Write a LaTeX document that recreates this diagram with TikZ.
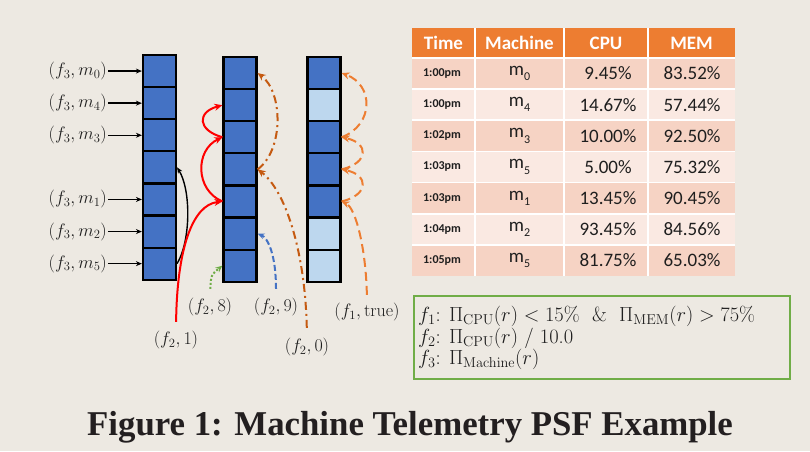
\RequirePackage{fix-cm}
\documentclass[tikz,border=0pt]{standalone}
\usepackage[no-math]{fontspec}
\newfontfamily\calib{Carlito}
\newfontfamily\capfont{Liberation Serif}
\usetikzlibrary{arrows.meta}
\definecolor{bg}{RGB}{237,233,226}
\definecolor{dblue}{RGB}{68,114,196}
\definecolor{lblue}{RGB}{189,215,238}
\definecolor{hdr}{RGB}{237,125,49}
\definecolor{rowA}{RGB}{246,211,196}
\definecolor{rowB}{RGB}{250,233,226}
\definecolor{gbox}{RGB}{112,173,71}
\definecolor{dorange}{RGB}{197,90,17}
\definecolor{lorange}{RGB}{237,125,49}
\definecolor{txt}{RGB}{30,30,30}
\newcommand\msub[1]{m\raisebox{-0.28em}{\fontsize{12}{12}\selectfont #1}}
\begin{document}
\begin{tikzpicture}[x=1pt,y=-1pt,
  cell/.style={draw=black,line width=2.2pt,minimum width=33pt,minimum height=32.1pt,inner sep=0pt},
  lab/.style={font=\fontsize{18}{20}\selectfont,text=txt,inner sep=1pt},
  blk/.style={draw=black,line width=1.4pt,-{Stealth[length=6pt,width=5pt]}},
  redarr/.style={draw=red,line width=2pt,-{Stealth[length=8pt,width=7pt]}},
  grnarr/.style={draw=gbox,line width=2pt,dotted,-{Stealth[length=7pt,width=6pt]}},
  bluarr/.style={draw=dblue,line width=2pt,dash pattern=on 6pt off 3pt,-{Stealth[length=7pt,width=6pt]}},
  ddot/.style={draw=dorange,line width=2pt,dash pattern=on 8pt off 4pt on 2pt off 4pt,-{Stealth[length=8pt,width=7pt]}},
  odash/.style={draw=lorange,line width=2pt,dash pattern=on 9pt off 5pt,-{Stealth[length=8pt,width=7pt]}},
  th/.style={font=\calib\bfseries\fontsize{19}{21}\selectfont,text=white,inner sep=0pt},
  tsmall/.style={font=\calib\bfseries\fontsize{12}{14}\selectfont,text=txt,inner sep=0pt},
  td/.style={font=\calib\fontsize{19}{21}\selectfont,text=txt,inner sep=0pt},
  ftxt/.style={font=\fontsize{20.5}{22}\selectfont,text=txt,inner sep=0pt,anchor=west}]
\fill[bg] (0,0) rectangle (810,451);
\useasboundingbox (0,0) rectangle (810,451);

% column 1
\foreach \i in {1,...,7}
  \node[cell,fill=dblue] (a\i) at (159.5,{55+32.1*(\i-0.5)}) {};
% column 2
\foreach \i in {1,...,7}
  \node[cell,fill=dblue] (b\i) at (240,{57+32.1*(\i-0.5)}) {};
% column 3
\foreach \i/\c in {1/dblue,2/lblue,3/dblue,4/dblue,5/dblue,6/lblue,7/lblue}
  \node[cell,fill=\c] (c\i) at (324,{57+32.1*(\i-0.5)}) {};

% left labels
\foreach \i/\m in {1/0,2/4,3/3,5/1,6/2,7/5}{
  \node[lab,anchor=east] (L\i) at (108,{55+32.1*(\i-0.5)}) {$(f_3, m_{\m})$};
  \draw[blk] (L\i.east) -- (a\i.west);
}
\draw[blk] (a7.east) .. controls (191,240) and (191,190) .. (a4.east);

% bottom labels
\node[lab] (l8) at (210,307) {$(f_2,8)$};
\node[lab] (l9) at (276,307) {$(f_2,9)$};
\node[lab] (l1) at (176,340) {$(f_2,1)$};
\node[lab] (l0) at (307,347) {$(f_2,0)$};
\node[lab] (lt) at (367,312) {$(f_1,\mathrm{true})$};

% red chain
\draw[redarr,shorten <=8pt] (l1.north) .. controls (177,250) and (192,205) .. (b5.west);
\draw[redarr] (b5.west) .. controls (195,190) and (195,150) .. (b3.west);
\draw[redarr] (b3.west) .. controls (197,130) and (197,112) .. (b2.west);
% green
\draw[grnarr,shorten <=8pt] (l8.north) .. controls (211,275) .. (b7.west);
% blue
\draw[bluarr,shorten <=8pt] (l9.north) .. controls (276,255) and (268,238) .. (b6.east);
% dash-dot orange
\draw[ddot,shorten <=9pt] (l0.north) .. controls (305,250) and (285,190) .. (b4.east);
\draw[ddot] (b4.east) .. controls (284,150) and (283,92) .. (b1.east);
% dashed orange
\draw[odash,shorten <=7pt] (lt.north) .. controls (366,250) and (356,208) .. (c5.east);
\draw[odash] (c5.east) .. controls (369,195) and (369,175) .. (c4.east);
\draw[odash] (c4.east) .. controls (369,163) and (369,143) .. (c3.east);
\draw[odash] (c3.east) .. controls (374,125) and (374,85) .. (c1.east);

% table
\fill[hdr] (412,28) rectangle (735,58);
\foreach \i in {1,3,5,7}
  \fill[rowA] (412,{58+31.14*(\i-1)}) rectangle (735,{58+31.14*\i});
\foreach \i in {2,4,6}
  \fill[rowB] (412,{58+31.14*(\i-1)}) rectangle (735,{58+31.14*\i});
\foreach \x in {475,564,648}
  \draw[white,line width=1.2pt] (\x,28) -- (\x,276);
\foreach \i in {0,...,6}
  \draw[white,line width=1.6pt] (412,{58+31.14*\i}) -- (735,{58+31.14*\i});
\node[th] (hT) at (443.5,43) {Time};
\node[th] (hM) at (519.5,43) {Machine};
\node[th] (hC) at (606,43) {CPU};
\node[th] (hE) at (691.5,43) {MEM};
\foreach \i/\t/\m/\c/\e in {1/1:00pm/0/9.45/83.52,2/1:00pm/4/14.67/57.44,3/1:02pm/3/10.00/92.50,4/1:03pm/5/5.00/75.32,5/1:03pm/1/13.45/90.45,6/1:04pm/2/93.45/84.56,7/1:05pm/5/81.75/65.03}{
  \node[tsmall] (t\i) at (442,{58+31.14*(\i-0.5)}) {\t};
  \node[td] (m\i) at (519.5,{58+31.14*(\i-0.5)}) {\msub{\m}};
  \node[td] (p\i) at (608,{58+31.14*(\i-0.5)}) {\c\%};
  \node[td] (q\i) at (692,{58+31.14*(\i-0.5)}) {\e\%};
}

% formula box
\node[draw=gbox,line width=2pt,minimum width=376pt,minimum height=83pt,anchor=north west,inner sep=0pt] (fbox) at (413,295) {};
\node[ftxt] (f1) at (418,316) {$f_1$: $\Pi_{\mathrm{CPU}}(r)<15\%$ \ \& \ $\Pi_{\mathrm{MEM}}(r)>75\%$};
\node[ftxt] (f2) at (418,338) {$f_2$: $\Pi_{\mathrm{CPU}}(r)$ / 10.0};
\node[ftxt] (f3) at (418,359) {$f_3$: $\Pi_{\mathrm{Machine}}(r)$};

% caption
\node[font=\capfont\bfseries\fontsize{34.8}{38}\selectfont,text={rgb,255:red,35;green,31;blue,32},inner sep=0pt] (cap) at (410,427) {Figure 1: Machine Telemetry PSF Example};
\end{tikzpicture}
\end{document}
